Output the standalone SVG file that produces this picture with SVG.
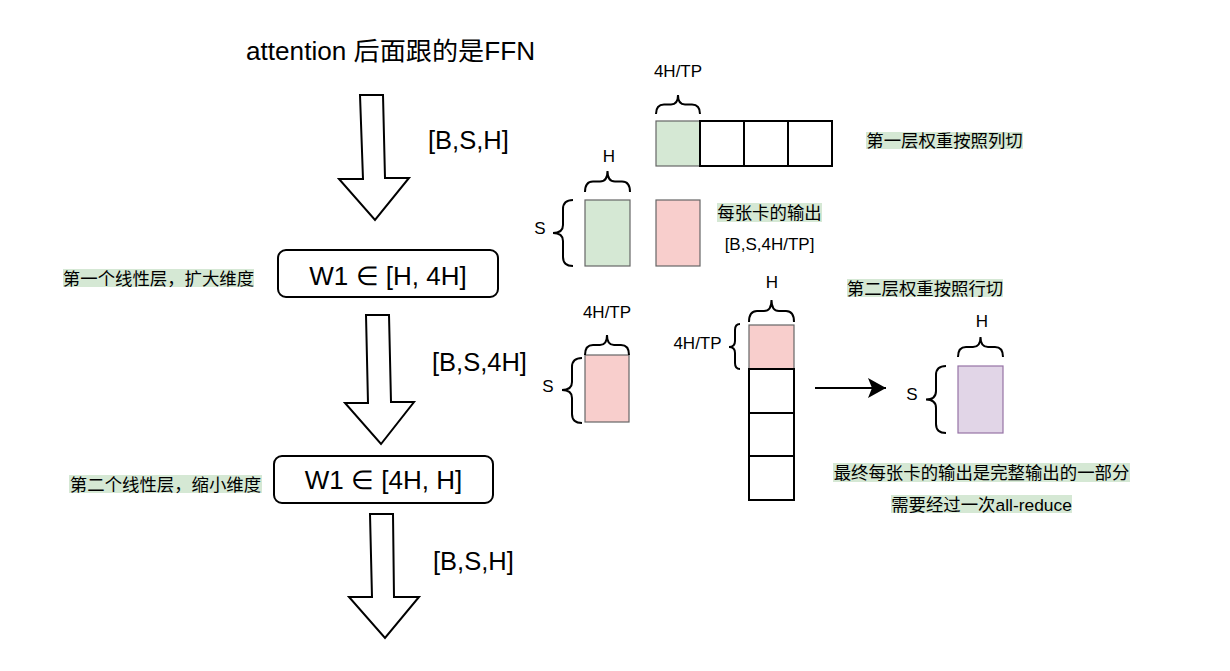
<svg xmlns="http://www.w3.org/2000/svg" width="1230" height="671" viewBox="0 0 1230 671">
<defs>
<style>
.lat{font-family:"Liberation Sans",Arial,sans-serif;fill:#000}
.cjk{font-family:"Liberation Sans","Noto Sans CJK SC",sans-serif;font-size:17.4px;fill:#000;text-anchor:middle}
.big{font-size:25.5px}
.sm{font-size:17px;text-anchor:middle}
.hl{fill:#d5e8d4}
.flow{fill:#fff;stroke:#000;stroke-width:2;stroke-linejoin:miter}
.box{fill:#fff;stroke:#000;stroke-width:2}
.cell{fill:none;stroke:#000;stroke-width:2}
.green{fill:#d5e8d4;stroke:#666;stroke-width:1.2}
.pink{fill:#f8cecc;stroke:#666;stroke-width:1.2}
.purple{fill:#e1d5e7;stroke:#9673a6;stroke-width:1.2}
.brace{fill:none;stroke:#000;stroke-width:2}
</style>
<marker id="ah" markerUnits="userSpaceOnUse" markerWidth="20" markerHeight="22" refX="18" refY="10" orient="auto">
<path d="M0,0 L18,10 L0,20 L4,10 Z" fill="#000"/>
</marker>
</defs>
<rect width="1230" height="671" fill="#fff"/>

<g id="title">
<text class="lat" x="246" y="60" font-size="25" textLength="289" lengthAdjust="spacingAndGlyphs" style="font-family:'Liberation Sans','Noto Sans CJK SC',sans-serif">attention 后面跟的是FFN</text>
</g>

<g id="connectors">
<polygon class="flow" points="360,95 383,95 385,178 409,178 375,220 339,179 363,179"/>
<polygon class="flow" points="366,315 389,315 391,402 414,402 381,444 345,403 368,403"/>
<polygon class="flow" points="370,514 393,514 394,597 419,597 385,638 349,597 372,597"/>
<line x1="815" y1="388" x2="886" y2="388" stroke="#000" stroke-width="2" marker-end="url(#ah)"/>
</g>

<g id="shape-labels">
<text class="lat big" x="428" y="149">[B,S,H]</text>
<text class="lat big" x="432" y="371">[B,S,4H]</text>
<text class="lat big" x="433" y="570">[B,S,H]</text>
</g>

<g id="layer1">
<rect class="box" x="278" y="250" width="220" height="47" rx="8"/>
<text class="lat" x="388" y="285" font-size="26" text-anchor="middle">W1 ∈ [H, 4H]</text>
</g>
<g id="layer1-label">
<rect class="hl" x="63" y="269" width="191" height="18"/>
<text class="cjk" x="158.5" y="284.5">第一个线性层，扩大维度</text>
</g>

<g id="layer2">
<rect class="box" x="274" y="456" width="219" height="47" rx="8"/>
<text class="lat" x="383.5" y="489" font-size="26" text-anchor="middle">W1 ∈ [4H, H]</text>
</g>
<g id="layer2-label">
<rect class="hl" x="69" y="475" width="193" height="18"/>
<text class="cjk" x="165.5" y="490.5">第二个线性层，缩小维度</text>
</g>

<g id="w1-split">
<rect class="green" x="656" y="121" width="44" height="45"/>
<rect class="cell" x="700" y="121" width="44" height="45"/>
<rect class="cell" x="744" y="121" width="44" height="45"/>
<rect class="cell" x="788" y="121" width="44" height="45"/>
<path class="brace" d="M656,114 Q656,104.5 664,104.5 L671,104.5 Q678,104.5 678,95 Q678,104.5 685,104.5 L692,104.5 Q700,104.5 700,114"/>
<text class="lat sm" x="678" y="77">4H/TP</text>
</g>
<g id="w1-split-label">
<rect class="hl" x="866" y="132" width="157" height="17"/>
<text class="cjk" x="944.5" y="147">第一层权重按照列切</text>
</g>

<g id="input-x">
<rect class="green" x="585" y="200" width="45" height="66"/>
<path class="brace" d="M585,192 Q585,181.5 593,181.5 L600,181.5 Q607.5,181.5 607.5,171 Q607.5,181.5 615,181.5 L622,181.5 Q630,181.5 630,192"/>
<text class="lat sm" x="609" y="162">H</text>
<path class="brace" d="M573,200 Q563,200 563,209 L563,225 Q563,233 553,233 Q563,233 563,241 L563,257 Q563,266 573,266"/>
<text class="lat sm" x="540" y="234">S</text>
</g>

<g id="output1">
<rect class="pink" x="656" y="200" width="44" height="66"/>
</g>
<g id="output1-label">
<rect class="hl" x="717" y="203" width="105" height="19"/>
<text class="cjk" x="769.5" y="219">每张卡的输出</text>
<text class="lat sm" x="769.5" y="250">[B,S,4H/TP]</text>
</g>

<g id="hidden">
<rect class="pink" x="585" y="355" width="44" height="67"/>
<path class="brace" d="M585,355 Q585,345 593,345 L600,345 Q607,345 607,335 Q607,345 614,345 L621,345 Q629,345 629,355"/>
<text class="lat sm" x="607" y="318">4H/TP</text>
<path class="brace" d="M582,358 Q572,358 572,367 L572,382 Q572,390 562,390 Q572,390 572,398 L572,414 Q572,423 582,423"/>
<text class="lat sm" x="548" y="392">S</text>
</g>

<g id="w2-split">
<rect class="pink" x="749" y="325" width="45" height="44"/>
<rect class="cell" x="749" y="369" width="45" height="44"/>
<rect class="cell" x="749" y="413" width="45" height="43"/>
<rect class="cell" x="749" y="456" width="45" height="44"/>
<path class="brace" d="M749,322 Q749,311 757,311 L764,311 Q771.5,311 771.5,300 Q771.5,311 779,311 L786,311 Q794,311 794,322"/>
<text class="lat sm" x="772" y="288">H</text>
<path class="brace" d="M740,324 Q735,324 735,330 L735,341 Q735,347 729,347 Q735,347 735,353 L735,363 Q735,369 740,369"/>
<text class="lat sm" x="697.5" y="349">4H/TP</text>
</g>
<g id="w2-split-label">
<rect class="hl" x="847" y="279" width="156" height="18"/>
<text class="cjk" x="925" y="294.5">第二层权重按照行切</text>
</g>

<g id="output2">
<rect class="purple" x="958" y="366" width="45" height="67"/>
<path class="brace" d="M958,357 Q958,347 966,347 L973,347 Q980.5,347 980.5,337 Q980.5,347 988,347 L995,347 Q1003,347 1003,357"/>
<text class="lat sm" x="982" y="327">H</text>
<path class="brace" d="M946,366 Q936,366 936,375 L936,391 Q936,399.5 926,399.5 Q936,399.5 936,408 L936,424 Q936,433 946,433"/>
<text class="lat sm" x="912" y="400">S</text>
</g>

<g id="final-label">
<rect class="hl" x="833" y="463" width="297" height="19"/>
<text class="cjk" x="981.5" y="479">最终每张卡的输出是完整输出的一部分</text>
<rect class="hl" x="891" y="495" width="181" height="18"/>
<text class="cjk" x="981.5" y="510.5">需要经过一次all-reduce</text>
</g>
</svg>
